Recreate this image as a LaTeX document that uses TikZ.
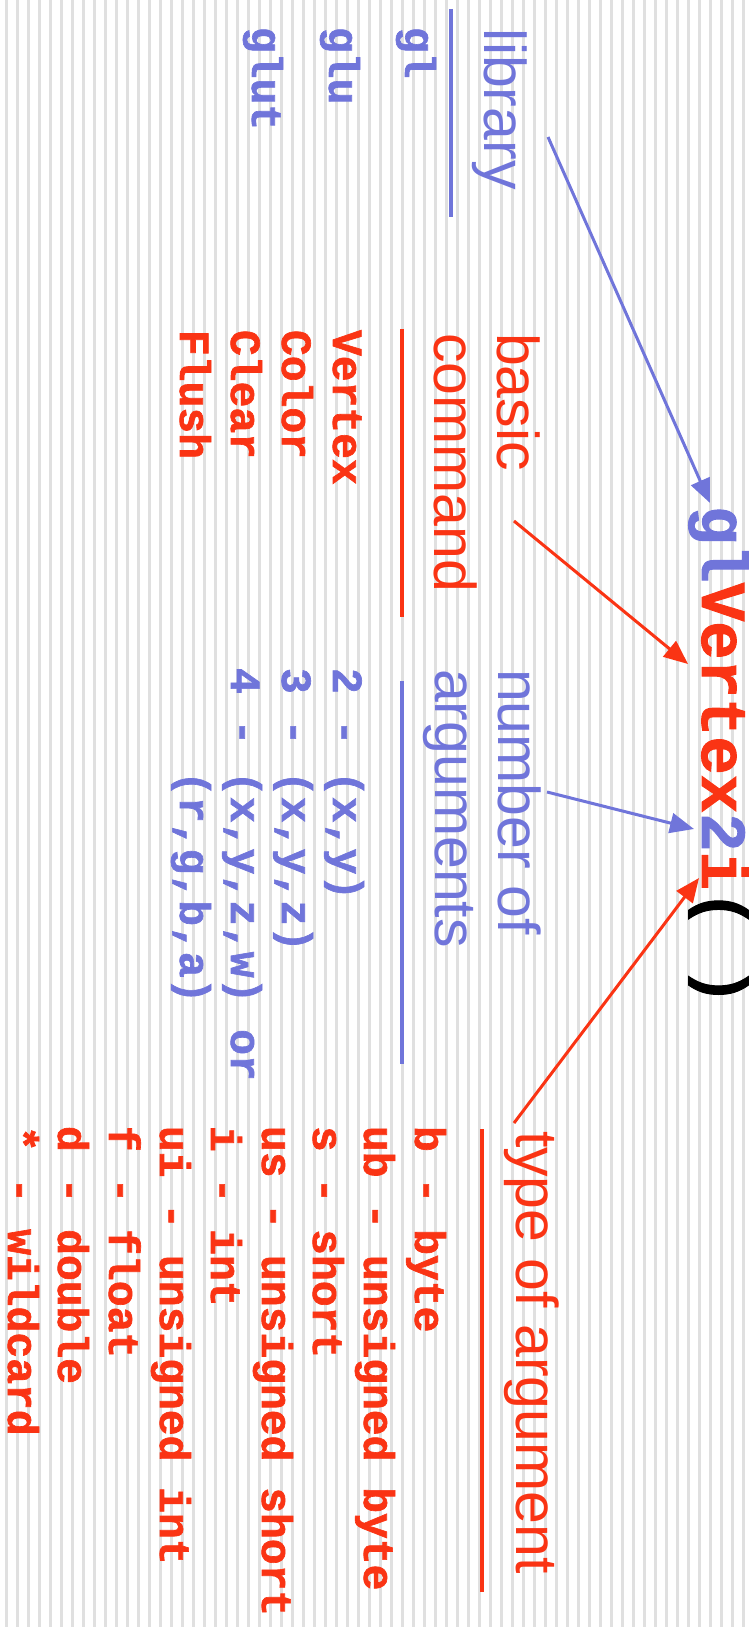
\documentclass[tikz,border=0pt]{standalone}
\usepackage{fontspec}
\setmainfont{Liberation Sans}
\setmonofont{Liberation Mono}[BoldFeatures={FakeBold=1.5}]
\usetikzlibrary{arrows.meta}
\definecolor{glblue}{RGB}{112,117,218}
\definecolor{glred}{RGB}{250,52,20}
\definecolor{stripe}{RGB}{224,224,224}
\frenchspacing
\begin{document}
\begin{tikzpicture}[x=1pt,y=1pt,
  txt/.style={rotate=-90,anchor=base west,inner sep=0pt,outer sep=0pt},
  headtext/.style={txt,font=\fontsize{59}{61}\selectfont},
  codetext/.style={txt,font=\fontsize{43}{45}\selectfont\ttfamily\bfseries},
  divider/.style={line width=4pt},
  pointer/.style={line width=3pt,-{Triangle[length=24pt,width=20pt]}},
]
\useasboundingbox (0,0) rectangle (752,-1627);
\fill[white] (0,0) rectangle (752,-1627);
% striped background
\foreach \k in {0,...,68}
  \fill[stripe] ({5+11*\k},0) rectangle ({7.5+11*\k},-1627);

% title
\node[txt,font=\fontsize{64}{66}\selectfont\ttfamily\bfseries] (title) at (702,-506)
  {\textcolor{glblue}{gl}\textcolor{glred}{Vertex}\textcolor{glblue}{2}\textcolor{glred}{i}( )};

% library column
\node[headtext,text=glblue] (lib) at (484,-29) {library};
\coordinate (libtop) at (451,-9);
\coordinate (libbot) at (451,-217);
\draw[divider,glblue] (libtop) -- (libbot);
\node[codetext,text=glblue] (gl) at (405,-27) {gl};
\node[codetext,text=glblue] (glu) at (329,-27) {glu};
\node[codetext,text=glblue] (glut) at (252,-27) {glut};

% command column
\node[headtext,text=glred] (basic) at (497,-333) {basic};
\node[headtext,text=glred] (command) at (434,-333) {command};
\coordinate (cmdtop) at (402,-329);
\coordinate (cmdbot) at (402,-617);
\draw[divider,glred] (cmdtop) -- (cmdbot);
\node[codetext,text=glred] (vtx) at (333,-330) {Vertex};
\node[codetext,text=glred] (col) at (282,-330) {Color};
\node[codetext,text=glred] (clr) at (231,-330) {Clear};
\node[codetext,text=glred] (fl) at (180,-330) {Flush};

% argument count column
\node[headtext,text=glblue] (numof) at (498,-669) {number of};
\node[headtext,text=glblue] (args) at (435,-669) {arguments};
\coordinate (argtop) at (402,-681);
\coordinate (argbot) at (402,-1064);
\draw[divider,glblue] (argtop) -- (argbot);
\node[codetext,text=glblue] (a2) at (333,-668) {2 - (x,y)};
\node[codetext,text=glblue] (a3) at (282,-668) {3 - (x,y,z)};
\node[codetext,text=glblue] (a4) at (231,-668) {4 - (x,y,z,w) or};
\node[codetext,text=glblue] (a4b) at (180,-668) {\phantom{4 - }(r,g,b,a)};

% argument type column
\node[headtext,text=glred] (typeof) at (516,-1131) {type of argument};
\coordinate (typtop) at (482,-1129);
\coordinate (typbot) at (482,-1592);
\draw[divider,glred] (typtop) -- (typbot);
\node[codetext,text=glred] (tb) at (415,-1126) {b - byte};
\node[codetext,text=glred] (tub) at (364,-1126) {ub - unsigned byte};
\node[codetext,text=glred] (ts) at (313,-1126) {s - short};
\node[codetext,text=glred] (tus) at (262,-1126) {us - unsigned short};
\node[codetext,text=glred] (ti) at (211,-1126) {i - int};
\node[codetext,text=glred] (tui) at (160,-1126) {ui - unsigned int};
\node[codetext,text=glred] (tf) at (109,-1126) {f - float};
\node[codetext,text=glred] (td) at (58,-1126) {d - double};
\node[codetext,text=glred] (twild) at (8,-1126) {* - wildcard};

% pointers from the captions to the parts of the name
\coordinate (libfrom) at (548,-137);
\coordinate (libto) at (710,-503);
\coordinate (basfrom) at (514,-521);
\coordinate (basto) at (688,-664);
\coordinate (numfrom) at (547,-792);
\coordinate (numto) at (694,-829);
\coordinate (typfrom) at (514,-1123);
\coordinate (typto) at (699,-878);
\draw[pointer,glblue] (libfrom) -- (libto);
\draw[pointer,glred] (basfrom) -- (basto);
\draw[pointer,glblue] (numfrom) -- (numto);
\draw[pointer,glred] (typfrom) -- (typto);
\end{tikzpicture}
\end{document}
